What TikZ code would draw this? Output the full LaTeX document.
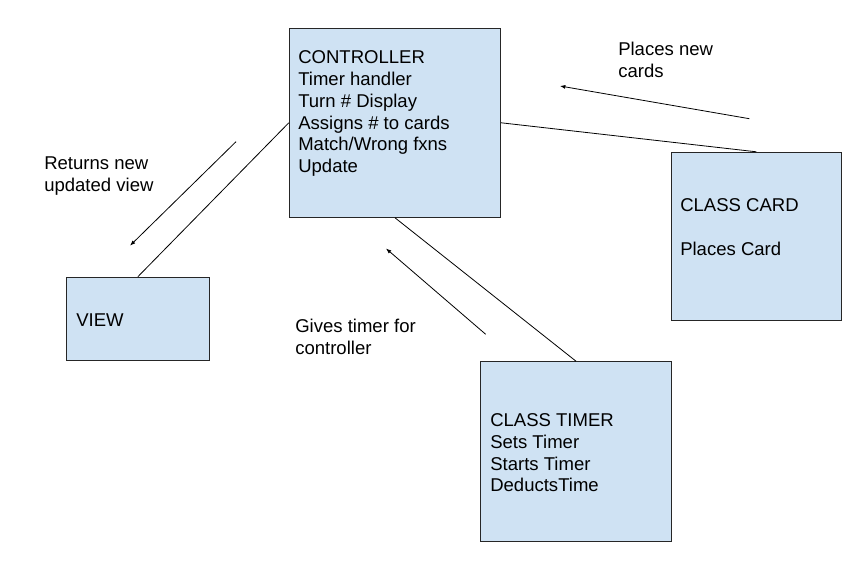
\documentclass[tikz,border=0pt]{standalone}
\usepackage{fontspec}
\setmainfont{Liberation Sans}
\usetikzlibrary{arrows.meta,fit}
\definecolor{boxblue}{HTML}{CFE2F3}
\begin{document}
\begin{tikzpicture}[x=0.75pt,y=-0.75pt,
  box/.style={draw=black!85,fill=boxblue,line width=0.75pt,inner sep=0pt},
  txt/.style={anchor=north west,inner sep=0pt,align=left,font=\fontsize{13.9}{16.3}\selectfont},
  flow/.style={-{Latex[length=4pt,width=3pt]},line width=0.6pt}]
\useasboundingbox (0,0) rectangle (861,570);
% classes
\node[box,fit={(289.3,28.3) (500.7,217.3)}] (ctrl) {};
\node[box,fit={(66.3,277.3) (209.3,361)}] (view) {};
\node[box,fit={(671.3,152.3) (841.3,321)}] (card) {};
\node[box,fit={(480.3,361.7) (671.7,541.3)}] (timer) {};
\node[txt] (ctrltxt) at (298,50.7) {CONTROLLER\\Timer handler\\Turn \# Display\\Assigns \# to cards\\Match/Wrong fxns\\Update};
\node[txt] (viewtxt) at (76,313.4) {VIEW};
\node[txt] (cardtxt) at (680,198.4) {CLASS CARD\\[16.3pt]Places Card};
\node[txt] (timertxt) at (490,413.4) {CLASS TIMER\\Sets Timer\\Starts Timer\\DeductsTime};
% links
\draw[line width=0.6pt] (view.north) -- (ctrl.west);
\draw[line width=0.6pt] (ctrl.east) -- (card.north);
\draw[line width=0.6pt] (ctrl.south) -- (timer.north);
% messages
\coordinate (rs) at (236,141.7);
\coordinate (re) at (130,245.7);
\draw[flow] (rs) -- (re);
\node[txt] (rlab) at (44,156.7) {Returns new\\updated view};
\coordinate (ps) at (749.3,118.7);
\coordinate (pe) at (560,86);
\draw[flow] (ps) -- (pe);
\node[txt] (plab) at (618,41.7) {Places new\\cards};
\coordinate (gs) at (485.7,334.3);
\coordinate (ge) at (386,248.5);
\draw[flow] (gs) -- (ge);
\node[txt] (glab) at (295,319) {Gives timer for\\controller};
\end{tikzpicture}
\end{document}
